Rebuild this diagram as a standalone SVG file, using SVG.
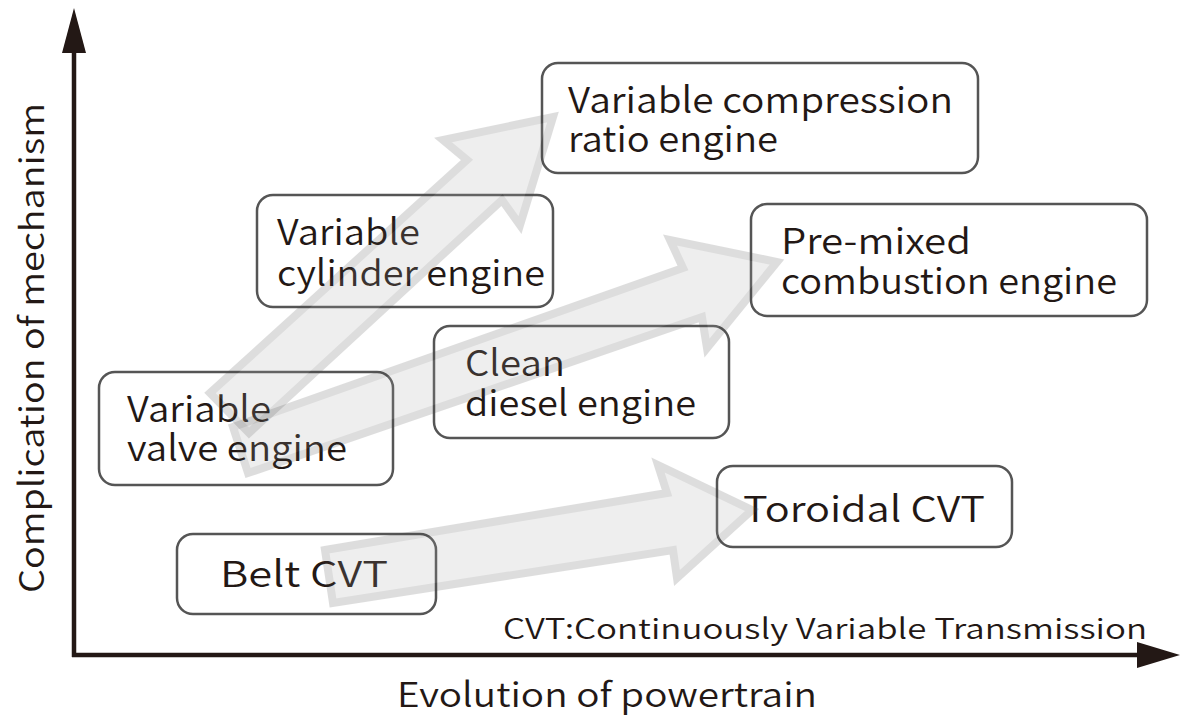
<svg xmlns="http://www.w3.org/2000/svg" width="1182" height="722" viewBox="0 0 1182 722">
  <style>
    .box { fill: #ffffff; stroke: #555555; stroke-width: 2.5; }
    .lbl { font-family: "Noto Sans CJK JP", "Noto Sans", sans-serif; font-weight: 350; font-size: 36px; fill: #231815; }
    .axis-lbl { font-family: "Noto Sans CJK JP", "Noto Sans", sans-serif; font-weight: 350; font-size: 34px; fill: #231815; }
    .note { font-family: "Noto Sans CJK JP", "Noto Sans", sans-serif; font-weight: 350; font-size: 28px; fill: #231815; }
    .axis { stroke: #231815; stroke-width: 4.5; fill: none; }
    .head { fill: #231815; }
    .flow { opacity: 0.18; }
    .flow polygon { fill: #a6a6a6; stroke: #4a4a4a; stroke-width: 8; stroke-linejoin: miter; }
  </style>

  <rect width="1182" height="722" fill="#ffffff"/>

  <!-- axes -->
  <g id="axes">
    <line class="axis" x1="74" y1="657" x2="74" y2="48"/>
    <polygon class="head" points="74,8 62,53 86,53"/>
    <line class="axis" x1="72" y1="655" x2="1142" y2="655"/>
    <polygon class="head" points="1180,655 1137,642 1137,668"/>
    <text class="axis-lbl" x="397" y="707" textLength="420" lengthAdjust="spacingAndGlyphs">Evolution of powertrain</text>
    <text class="axis-lbl" transform="translate(44,593) rotate(-90)" textLength="490" lengthAdjust="spacingAndGlyphs">Complication of mechanism</text>
    <text class="note" x="503" y="639" textLength="644" lengthAdjust="spacingAndGlyphs">CVT:Continuously Variable Transmission</text>
  </g>

  <!-- nodes -->
  <g id="node-vcr">
    <rect class="box" x="542" y="63" width="436" height="110" rx="16"/>
    <text class="lbl" x="568" y="113" textLength="385" lengthAdjust="spacingAndGlyphs">Variable compression</text>
    <text class="lbl" x="568" y="152" textLength="210" lengthAdjust="spacingAndGlyphs">ratio engine</text>
  </g>
  <g id="node-vcyl">
    <rect class="box" x="257" y="195" width="296" height="112" rx="16"/>
    <text class="lbl" x="277" y="245" textLength="143" lengthAdjust="spacingAndGlyphs">Variable</text>
    <text class="lbl" x="277" y="286" textLength="268" lengthAdjust="spacingAndGlyphs">cylinder engine</text>
  </g>
  <g id="node-premix">
    <rect class="box" x="751" y="204" width="396" height="112" rx="16"/>
    <text class="lbl" x="781" y="254" textLength="190" lengthAdjust="spacingAndGlyphs">Pre-mixed</text>
    <text class="lbl" x="781" y="294" textLength="336" lengthAdjust="spacingAndGlyphs">combustion engine</text>
  </g>
  <g id="node-diesel">
    <rect class="box" x="434" y="326" width="295" height="112" rx="16"/>
    <text class="lbl" x="465" y="376" textLength="100" lengthAdjust="spacingAndGlyphs">Clean</text>
    <text class="lbl" x="465" y="416" textLength="231" lengthAdjust="spacingAndGlyphs">diesel engine</text>
  </g>
  <g id="node-vvalve">
    <rect class="box" x="99" y="372" width="294" height="113" rx="16"/>
    <text class="lbl" x="127" y="422" textLength="144" lengthAdjust="spacingAndGlyphs">Variable</text>
    <text class="lbl" x="127" y="461" textLength="220" lengthAdjust="spacingAndGlyphs">valve engine</text>
  </g>
  <g id="node-toroidal">
    <rect class="box" x="717" y="466" width="295" height="81" rx="16"/>
    <text class="lbl" x="743" y="522" textLength="242" lengthAdjust="spacingAndGlyphs">Toroidal CVT</text>
  </g>
  <g id="node-belt">
    <rect class="box" x="177" y="534" width="259" height="80" rx="16"/>
    <text class="lbl" x="220" y="587" textLength="168" lengthAdjust="spacingAndGlyphs">Belt CVT</text>
  </g>

  <!-- connectors: broad translucent progression arrows -->
  <g id="connectors">
    <g class="flow"><polygon points="210,393 467,160 443,140 553,117 520,225 502,200 249,433"/></g>
    <g class="flow"><polygon points="233,427 683,268 670,240 777,262 707,348 702,317 248,473"/></g>
    <g class="flow"><polygon points="325,550 667,493 658,465 752,510 677,578 673,550 333,603"/></g>
  </g>
</svg>
